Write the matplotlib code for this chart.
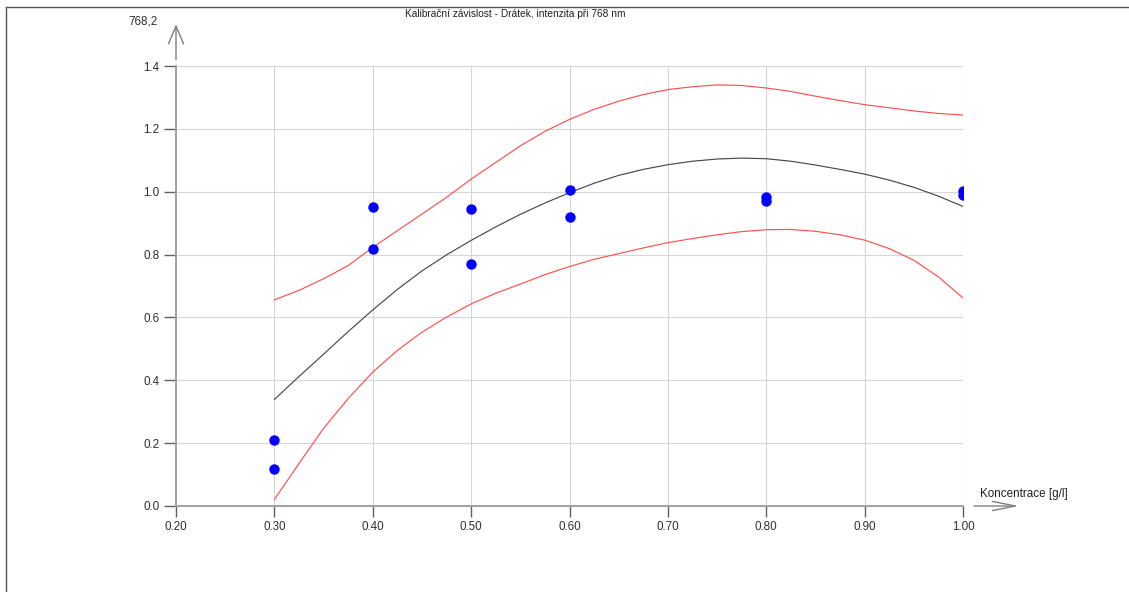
import matplotlib
matplotlib.use("Agg")
import matplotlib.pyplot as plt
from matplotlib.lines import Line2D

plt.rcParams['font.family'] = ['Liberation Sans', 'DejaVu Sans']

# measured points (concentration g/l, intensity at 768 nm)
conc = [0.3, 0.3, 0.4, 0.4, 0.5, 0.5, 0.6, 0.6, 0.8, 0.8, 1.0, 1.0]
intensity = [0.209, 0.119, 0.950, 0.817, 0.945, 0.769, 1.005, 0.920, 0.984, 0.970, 1.003, 0.988]

# calibration curve and confidence band, every 0.025 g/l
curve_x = [0.300, 0.325, 0.350, 0.375, 0.400, 0.425, 0.450, 0.475, 0.500, 0.525,
           0.550, 0.575, 0.600, 0.625, 0.650, 0.675, 0.700, 0.725, 0.750, 0.775,
           0.800, 0.825, 0.850, 0.875, 0.900, 0.925, 0.950, 0.975, 1.000]
fit = [0.339, 0.412, 0.483, 0.555, 0.624, 0.689, 0.748, 0.799, 0.845, 0.888,
       0.928, 0.964, 0.997, 1.027, 1.052, 1.071, 1.086, 1.097, 1.104, 1.107,
       1.105, 1.097, 1.085, 1.071, 1.056, 1.037, 1.014, 0.986, 0.953]
upper = [0.656, 0.686, 0.723, 0.765, 0.823, 0.876, 0.929, 0.982, 1.040, 1.093,
         1.146, 1.192, 1.230, 1.262, 1.288, 1.309, 1.325, 1.334, 1.340, 1.338,
         1.330, 1.319, 1.304, 1.290, 1.277, 1.267, 1.257, 1.249, 1.244]
lower = [0.021, 0.135, 0.247, 0.342, 0.426, 0.495, 0.553, 0.601, 0.643, 0.677,
         0.706, 0.736, 0.762, 0.785, 0.803, 0.821, 0.838, 0.851, 0.863, 0.873,
         0.879, 0.880, 0.874, 0.863, 0.846, 0.819, 0.782, 0.729, 0.662]

x_ticks = [0.2, 0.3, 0.4, 0.5, 0.6, 0.7, 0.8, 0.9, 1.0]
y_ticks = [0.0, 0.2, 0.4, 0.6, 0.8, 1.0, 1.2, 1.4]

title = "Kalibrační závislost - Drátek, intenzita při 768 nm"
x_label = "Koncentrace [g/l]"
y_label = "768,2"

fig = plt.figure(figsize=(11.29, 5.92), dpi=100)
ax = fig.add_axes([176 / 1129, 86 / 592, 787 / 1129, 440 / 592])

ax.plot(curve_x, upper, color='#ff5050', lw=0.85, zorder=3)
ax.plot(curve_x, lower, color='#ff5050', lw=0.85, zorder=3)
ax.plot(curve_x, fit, color='#4a4a4a', lw=0.85, zorder=3)
ax.plot(conc, intensity, 'o', color='#0000ff', markersize=7.5, markeredgewidth=0, zorder=4)

ax.set_xlim(0.2, 1.0)
ax.set_ylim(0.0, 1.4)
ax.set_xticks(x_ticks)
ax.set_yticks(y_ticks)
ax.set_xticklabels(["%.2f" % v for v in x_ticks])
ax.set_yticklabels(["%.1f" % v for v in y_ticks])
ax.grid(True, color='#d6d6d6', lw=0.8, zorder=0)
ax.set_axisbelow(True)

for s in ['top', 'right']:
    ax.spines[s].set_visible(False)
for s in ['left', 'bottom']:
    ax.spines[s].set_color('#a0a0a0')
    ax.spines[s].set_linewidth(1.4)

ax.tick_params(axis='y', length=8.6, width=1, color='#606060', pad=3.5, labelsize=8.4, labelcolor='#303030')
ax.tick_params(axis='x', length=8, width=1, color='#606060', pad=3, labelsize=8.4, labelcolor='#303030')

# axis arrows
ax.annotate('', xy=(0, 1.095), xytext=(0, 1.014), xycoords='axes fraction',
            arrowprops=dict(arrowstyle='->,head_length=1.3,head_width=0.55', color='#808080', lw=1,
                            shrinkA=0, shrinkB=0))
ax.annotate('', xy=(1.071, 0), xytext=(1.014, 0), xycoords='axes fraction',
            arrowprops=dict(arrowstyle='->,head_length=1.65,head_width=0.33', color='#808080', lw=1,
                            shrinkA=0, shrinkB=0))

fig.text(980 / 1129, 1 - 494 / 592, x_label, fontsize=8.4, va='center', ha='left', color='#202020')
fig.text(143 / 1129, 1 - 22 / 592, y_label, fontsize=8.4, va='center', ha='center', color='#303030')
fig.text(515 / 1129, 1 - 14 / 592, title, fontsize=7.3, va='center', ha='center', color='#202020')

# outer frame (top and left edges only)
fig.add_artist(Line2D([6 / 1129, 1], [1 - 7 / 592, 1 - 7 / 592], color='#555555', lw=1))
fig.add_artist(Line2D([6 / 1129, 6 / 1129], [0, 1 - 7 / 592], color='#555555', lw=1))

fig.savefig('out.png', dpi=100)
